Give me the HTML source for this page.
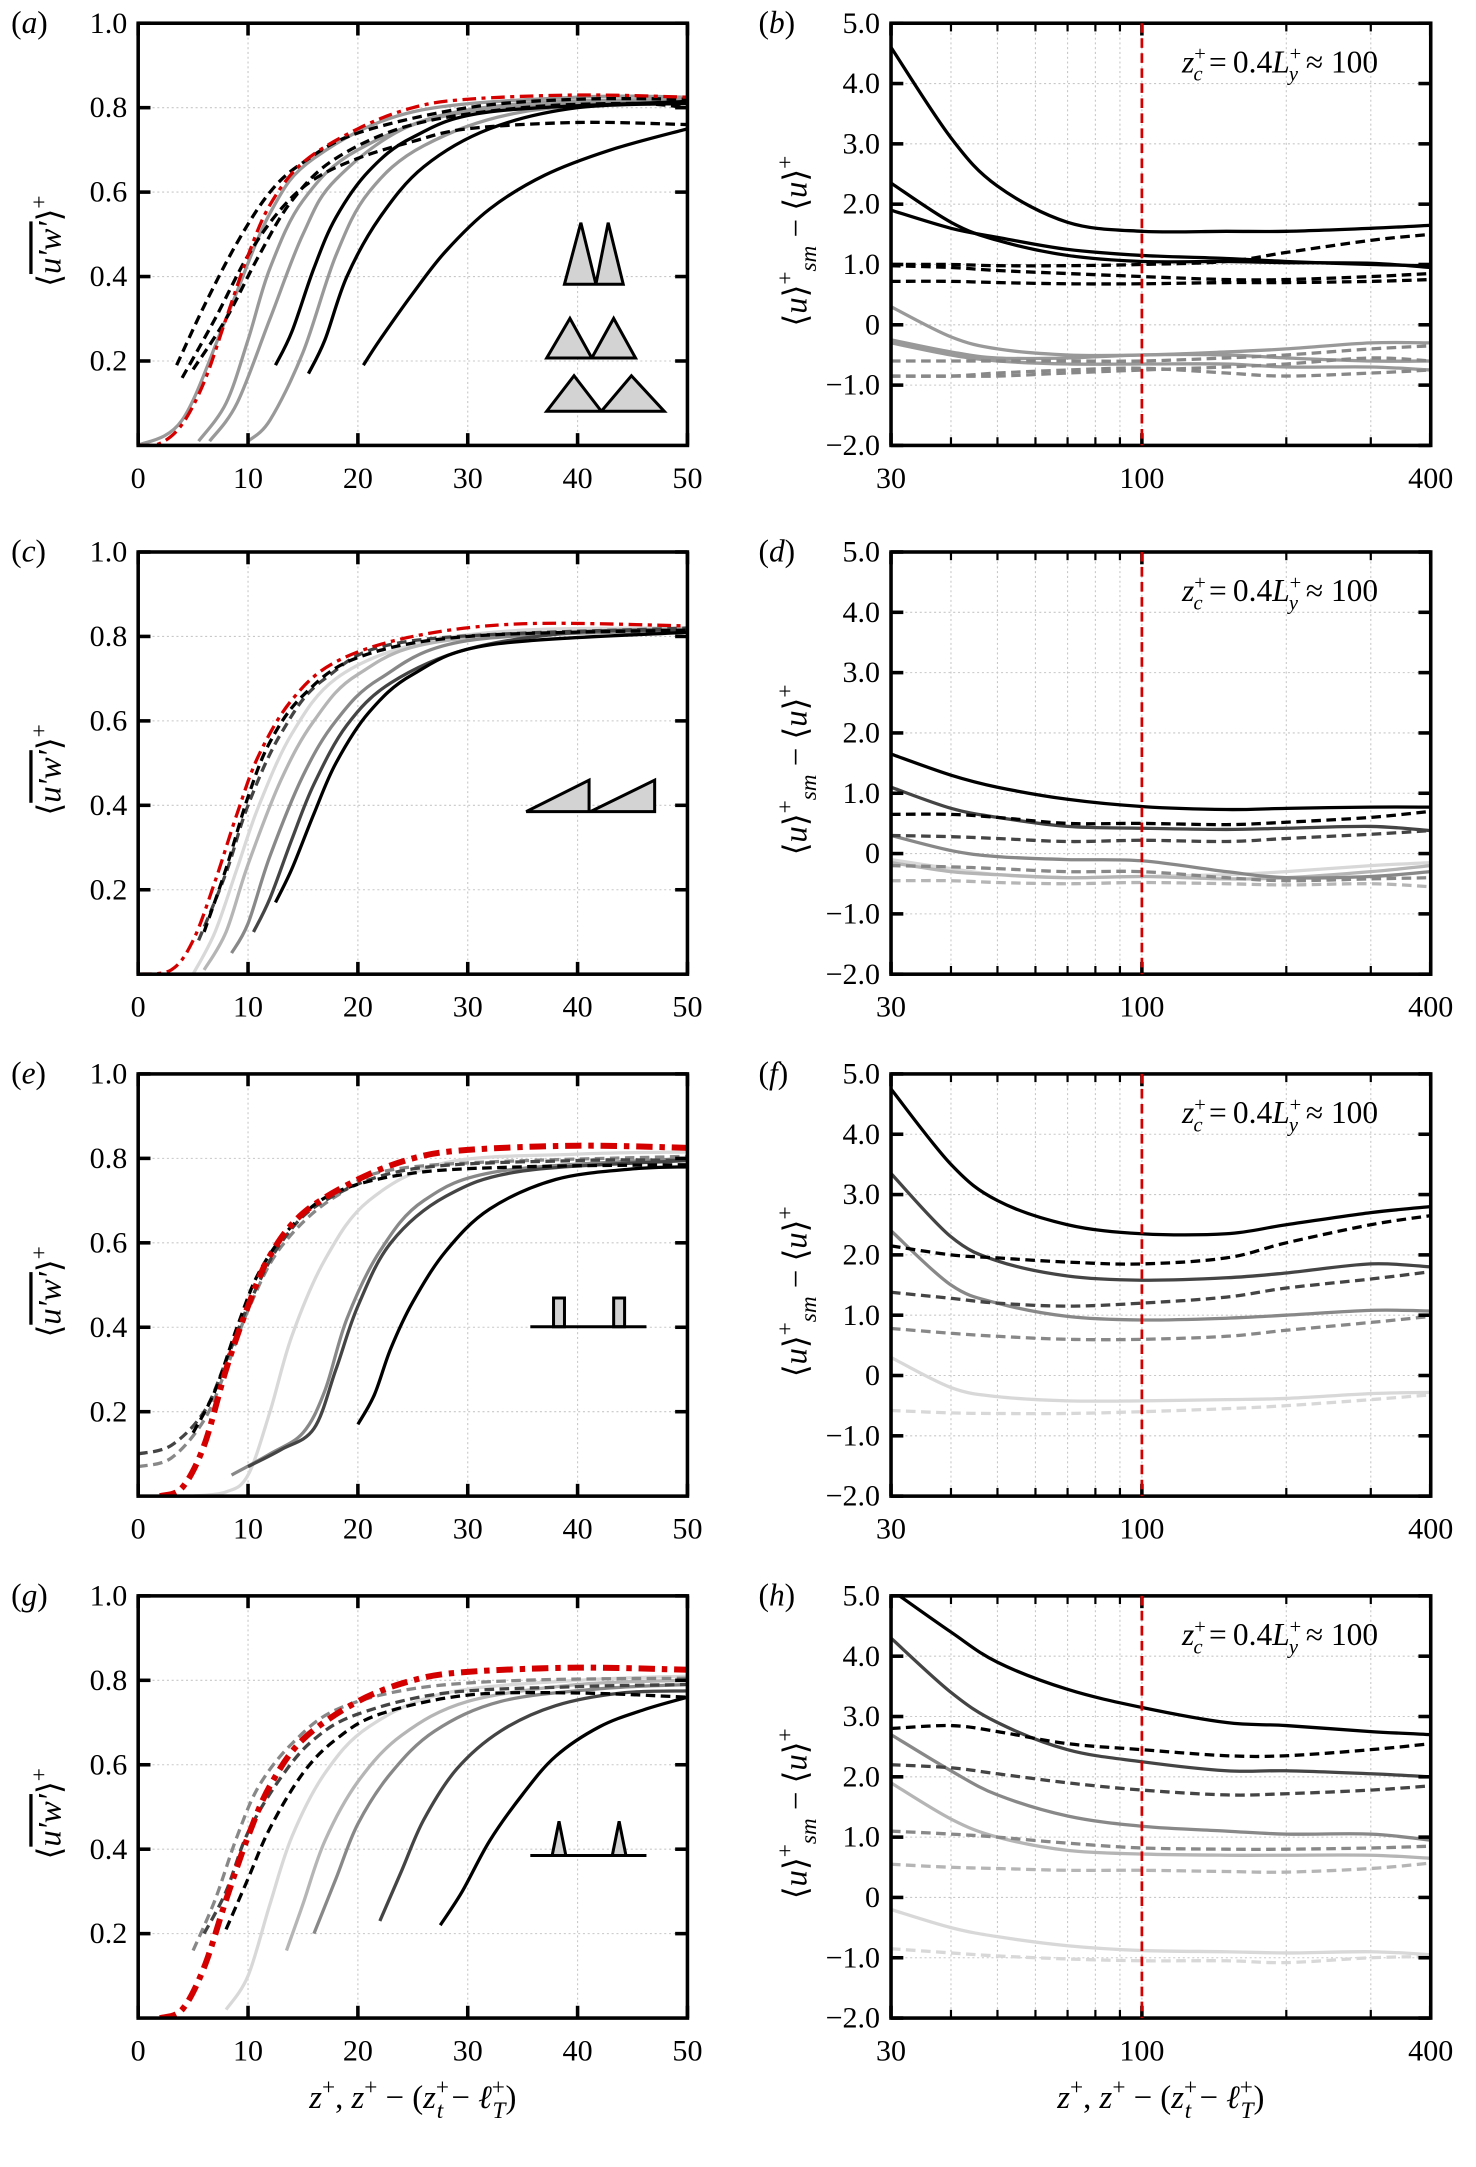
<!DOCTYPE html>
<html><head><meta charset="utf-8"><style>
html,body{margin:0;padding:0;background:#fff}
svg{display:block;font-family:"Liberation Serif",serif}
svg text{font-family:"Liberation Serif",serif;fill:#000}
</style></head><body>
<svg id="fig" width="1476" height="2167" viewBox="0 0 1080 1586" font-family="Liberation Serif, serif" xmlns="http://www.w3.org/2000/svg"></svg>
<script>
// ---- data ----
const logX = [30,40,50,70,100,150,200,300,400];
// panel a
const aRed=[[0,0],[2,0.005],[4,0.05],[6,0.15],[8,0.3],[10,0.45],[12,0.57],[15,0.67],[20,0.75],[25,0.8],[30,0.82],[40,0.83],[50,0.825]];
const aK1=[[3.5,0.19],[6,0.33],[9,0.48],[12,0.6],[15,0.67],[20,0.74],[30,0.8],[40,0.82],[50,0.82]];
const aK2=[[4,0.16],[7,0.3],[10,0.45],[13,0.56],[16,0.63],[20,0.68],[25,0.72],[30,0.75],[40,0.765],[50,0.76]];
const aK3=[[5,0.18],[8,0.3],[11,0.45],[14,0.58],[18,0.68],[25,0.76],[35,0.8],[45,0.81],[50,0.8]];
const aG1=[[0,0],[4,0.06],[8,0.3],[12,0.55],[16,0.68],[25,0.79],[40,0.825],[50,0.825]];
const aG2=[[5.5,0.01],[8,0.1],[10,0.25],[12,0.42],[15,0.58],[20,0.7],[30,0.79],[50,0.82]];
const aG3=[[6.5,0.01],[9,0.1],[12,0.3],[15,0.5],[18,0.63],[25,0.76],[35,0.81],[50,0.82]];
const aG4=[[10,0.01],[12,0.06],[15,0.22],[18,0.45],[21,0.6],[26,0.71],[35,0.79],[50,0.82]];
const aS1=[[12.5,0.19],[14,0.27],[16,0.42],[18,0.54],[21,0.65],[25,0.73],[32,0.79],[50,0.815]];
const aS2=[[15.5,0.17],[17,0.25],[19,0.4],[22,0.54],[26,0.66],[32,0.75],[40,0.8],[50,0.81]];
const aS3=[[20.5,0.19],[22,0.25],[25,0.36],[28,0.46],[32,0.56],[37,0.64],[43,0.7],[50,0.75]];
// panel b
const bK1=[4.6,3.1,2.3,1.7,1.55,1.55,1.55,1.6,1.65];
const bK2=[2.35,1.7,1.4,1.15,1.05,1.05,1.03,1.02,0.95];
const bK3=[1.9,1.6,1.45,1.25,1.15,1.1,1.05,1.0,0.98];
const bD1=[1.0,1.0,0.98,0.98,1.0,1.05,1.2,1.4,1.5];
const bD2=[0.98,0.95,0.9,0.85,0.8,0.75,0.75,0.8,0.85];
const bD3=[0.72,0.72,0.7,0.68,0.68,0.7,0.7,0.72,0.75];
const bG1=[0.3,-0.2,-0.4,-0.5,-0.5,-0.45,-0.4,-0.3,-0.3];
const bG2=[-0.25,-0.45,-0.55,-0.55,-0.5,-0.5,-0.55,-0.6,-0.6];
const bG3=[-0.3,-0.5,-0.6,-0.65,-0.65,-0.65,-0.7,-0.7,-0.75];
const bGD1=[-0.6,-0.6,-0.6,-0.6,-0.6,-0.55,-0.5,-0.4,-0.35];
const bGD2=[-0.85,-0.85,-0.85,-0.8,-0.75,-0.7,-0.65,-0.55,-0.6];
const bGD3=[-0.85,-0.85,-0.8,-0.75,-0.72,-0.8,-0.85,-0.8,-0.75];
// panel c
const cRed=[[0,0],[3,0.01],[5,0.08],[7,0.22],[9,0.38],[11,0.52],[14,0.65],[18,0.74],[25,0.8],[35,0.83],[50,0.825]];
const cKD=[[6,0.1],[8,0.25],[10,0.42],[12,0.55],[15,0.66],[20,0.75],[30,0.8],[50,0.815]];
const cGD=[[5.5,0.08],[8,0.24],[10,0.4],[13,0.57],[17,0.7],[25,0.79],[50,0.82]];
const cL=[[5,0],[7,0.1],[9,0.25],[11,0.4],[14,0.57],[18,0.7],[25,0.78],[35,0.815],[50,0.82]];
const cG=[[6,0.01],[8,0.1],[10,0.26],[13,0.46],[16,0.6],[20,0.71],[28,0.79],[50,0.82]];
const cM=[[8.5,0.05],[10,0.12],[12,0.28],[15,0.47],[18,0.6],[22,0.7],[30,0.79],[50,0.815]];
const cD=[[10.5,0.1],[12,0.18],[14,0.32],[16,0.45],[19,0.59],[23,0.69],[30,0.77],[40,0.81],[50,0.815]];
const cK=[[12.5,0.17],[14,0.25],[16,0.38],[18,0.5],[21,0.62],[25,0.71],[32,0.78],[50,0.81]];
// panel d
const dK=[1.65,1.3,1.1,0.9,0.78,0.73,0.75,0.77,0.77];
const dKD=[0.65,0.65,0.6,0.5,0.5,0.48,0.52,0.6,0.7];
const dD=[1.1,0.75,0.6,0.45,0.42,0.4,0.42,0.45,0.38];
const dDD=[0.3,0.28,0.25,0.2,0.22,0.2,0.25,0.32,0.38];
const dG=[0.3,0.05,-0.05,-0.1,-0.12,-0.3,-0.4,-0.38,-0.3];
const dGD=[-0.2,-0.22,-0.25,-0.3,-0.3,-0.4,-0.45,-0.42,-0.4];
const dL=[-0.15,-0.3,-0.35,-0.4,-0.38,-0.42,-0.4,-0.3,-0.2];
const dLD=[-0.45,-0.45,-0.48,-0.5,-0.48,-0.5,-0.52,-0.5,-0.55];
const dXL=[-0.1,-0.25,-0.35,-0.4,-0.38,-0.35,-0.3,-0.2,-0.15];
// panel e
const eRed=[[2,0],[4,0.02],[6,0.12],[8,0.3],[10,0.45],[12,0.57],[15,0.67],[20,0.75],[25,0.8],[30,0.82],[40,0.83],[50,0.825]];
const eKD=[[5,0.15],[7,0.25],[9,0.4],[11,0.53],[14,0.64],[18,0.72],[25,0.765],[35,0.78],[50,0.785]];
const eDD=[[0,0.1],[3,0.12],[6,0.2],[8,0.32],[10,0.45],[13,0.6],[17,0.7],[25,0.775],[40,0.795],[50,0.795]];
const eGD=[[0,0.07],[3,0.09],[6,0.18],[8,0.3],[10,0.44],[13,0.59],[18,0.71],[25,0.78],[50,0.805]];
const eL=[[5,0],[8,0.01],[10,0.05],[12,0.2],[14,0.38],[17,0.56],[21,0.7],[28,0.79],[40,0.81],[50,0.815]];
const eG=[[8.5,0.05],[12,0.1],[15,0.15],[17,0.25],[19,0.42],[22,0.58],[26,0.7],[33,0.77],[50,0.8]];
const eD=[[10,0.07],[13,0.11],[16,0.16],[18,0.3],[20,0.45],[23,0.6],[28,0.71],[35,0.77],[50,0.795]];
const eK=[[20,0.17],[21.5,0.24],[23,0.35],[25,0.46],[28,0.58],[32,0.68],[38,0.75],[45,0.775],[50,0.78]];
// panel f
const fK=[4.75,3.5,2.9,2.5,2.35,2.35,2.5,2.7,2.8];
const fKD=[2.15,2.0,1.95,1.88,1.85,1.95,2.2,2.5,2.65];
const fD=[3.35,2.3,1.9,1.65,1.58,1.62,1.7,1.85,1.8];
const fDD=[1.38,1.28,1.2,1.15,1.2,1.3,1.45,1.6,1.72];
const fG=[2.4,1.5,1.2,0.98,0.92,0.95,1.0,1.08,1.07];
const fGD=[0.78,0.7,0.65,0.6,0.6,0.65,0.75,0.88,0.98];
const fL=[0.3,-0.2,-0.35,-0.42,-0.42,-0.4,-0.38,-0.3,-0.28];
const fLD=[-0.58,-0.62,-0.63,-0.63,-0.6,-0.55,-0.5,-0.4,-0.32];
// panel g
const gRed=[[2,0],[4,0.02],[6,0.12],[8,0.28],[10,0.43],[12,0.55],[15,0.66],[20,0.75],[25,0.8],[30,0.82],[40,0.83],[50,0.825]];
const gGD=[[5,0.16],[7,0.28],[9,0.43],[11,0.55],[14,0.65],[18,0.73],[25,0.78],[35,0.8],[50,0.805]];
const gDD=[[6,0.2],[8,0.3],[10,0.44],[13,0.57],[16,0.66],[20,0.72],[28,0.77],[40,0.785],[50,0.79]];
const gKD=[[8,0.21],[10,0.33],[12,0.45],[15,0.58],[18,0.66],[22,0.72],[30,0.765],[40,0.77],[50,0.76]];
const gL=[[8,0.02],[10,0.1],[12,0.27],[14,0.43],[17,0.58],[21,0.69],[28,0.77],[40,0.8],[50,0.81]];
const gG1=[[13.5,0.16],[15,0.27],[17,0.42],[20,0.56],[24,0.67],[30,0.75],[40,0.79],[50,0.8]];
const gG2=[[16,0.2],[18,0.33],[20,0.46],[23,0.58],[27,0.68],[33,0.75],[42,0.78],[50,0.79]];
const gD=[[22,0.23],[24,0.35],[26,0.47],[29,0.59],[33,0.68],[38,0.74],[44,0.77],[50,0.775]];
const gK=[[27.5,0.22],[29.5,0.3],[32,0.42],[35,0.53],[38,0.62],[42,0.69],[46,0.73],[50,0.76]];
// panel h
const hK=[5.1,4.4,3.9,3.45,3.15,2.9,2.85,2.75,2.7];
const hKD=[2.8,2.85,2.75,2.55,2.45,2.35,2.35,2.45,2.55];
const hD=[4.3,3.4,2.9,2.45,2.25,2.1,2.1,2.05,2.0];
const hDD=[2.2,2.15,2.05,1.9,1.78,1.7,1.72,1.78,1.85];
const hG=[2.7,2.1,1.7,1.35,1.18,1.1,1.05,1.05,0.95];
const hGD=[1.1,1.05,1.0,0.9,0.82,0.8,0.8,0.82,0.85];
const hL=[1.9,1.3,1.0,0.78,0.72,0.7,0.7,0.7,0.65];
const hLD=[0.55,0.5,0.48,0.45,0.45,0.43,0.42,0.48,0.57];
const hXL=[-0.2,-0.5,-0.65,-0.8,-0.88,-0.9,-0.92,-0.9,-0.95];
const hXLD=[-0.85,-0.92,-0.97,-1.02,-1.05,-1.05,-1.08,-1.0,-0.98];

const leftXTicks=[0,10,20,30,40,50];
const leftYTicks=[0.2,0.4,0.6,0.8,1.0];
const rightXMajor=[30,100,400];
const rightXMinor=[40,50,60,70,80,90,200,300];
const rightYTicks=[-2,-1,0,1,2,3,4,5];

// ---- drawing ----
const NS="http://www.w3.org/2000/svg";
const svg=document.getElementById('fig');
const FONT='"Liberation Serif", serif';
function mk(tag,attrs,parent){const e=document.createElementNS(NS,tag);for(const k in attrs)e.setAttribute(k,attrs[k]);if(tag==='text')e.style.fontFamily=FONT;(parent||svg).appendChild(e);return e;}
function smooth(pts){
  if(pts.length<2)return '';
  let d='M'+pts[0][0].toFixed(2)+','+pts[0][1].toFixed(2);
  for(let i=0;i<pts.length-1;i++){
    const p0=pts[Math.max(0,i-1)],p1=pts[i],p2=pts[i+1],p3=pts[Math.min(pts.length-1,i+2)];
    const c1=[p1[0]+(p2[0]-p0[0])/6,p1[1]+(p2[1]-p0[1])/6];
    const c2=[p2[0]-(p3[0]-p1[0])/6,p2[1]-(p3[1]-p1[1])/6];
    d+=' C'+c1[0].toFixed(2)+','+c1[1].toFixed(2)+' '+c2[0].toFixed(2)+','+c2[1].toFixed(2)+' '+p2[0].toFixed(2)+','+p2[1].toFixed(2);
  }
  return d;
}
const W=402;const H=309;
const tops=[17,404,786,1168];
const LX=101, RX=652, RW=395;
const STY={
  red:{s:'#d40000',w:2.4,d:'10,4,3,4'}, redT:{s:'#d40000',w:4.4,d:'12,5,4,5'},
  kd:{s:'#000',w:2.4,d:'7,4'}, k:{s:'#000',w:2.4,d:''},
  d:{s:'#444',w:2.4,d:''}, dd:{s:'#444',w:2.4,d:'7,4'},
  g:{s:'#888',w:2.4,d:''}, gd:{s:'#888',w:2.4,d:'7,4'},
  g2:{s:'#999',w:2.4,d:''},
  l:{s:'#b5b5b5',w:2.4,d:''}, ld:{s:'#b5b5b5',w:2.4,d:'7,4'},
  xl:{s:'#d8d8d8',w:2.4,d:''}, xld:{s:'#d8d8d8',w:2.4,d:'7,4'}
};
let clipId=0;
function panel(letter,row,side){
  const top=tops[row];
  const x0= side==='L'?LX:RX; const w= side==='L'?W:RW;
  const g=mk('g',{});
  
  
  const sx= side==='L' ? (v=>x0+v/50*w) : (v=>x0+(Math.log(v)-Math.log(30))/(Math.log(400)-Math.log(30))*w);
  const sy= side==='L' ? (v=>top+H-v*H) : (v=>top+H-(v+2)/7*H);
  const gx= side==='L'?leftXTicks.slice(1,-1):rightXMinor.concat([100]);
  const gy= side==='L'?leftYTicks.slice(0,-1):rightYTicks.slice(1,-1);
  gx.forEach(v=>{const l=mk('line',{x1:sx(v),x2:sx(v),y1:top,y2:top+H,stroke:'#c8c8c8','stroke-width':0.8,'stroke-dasharray':'1.5,2'},g);});
  gy.forEach(v=>{const l=mk('line',{x1:x0,x2:x0+w,y1:sy(v),y2:sy(v),stroke:'#c8c8c8','stroke-width':0.8,'stroke-dasharray':'1.5,2'},g);});
  const id='clip'+(clipId++);
  const cp=mk('clipPath',{id:id},g); mk('rect',{x:x0,y:top,width:w,height:H},cp);
  const cg=mk('g',{'clip-path':'url(#'+id+')'},g);
  return {g,cg,sx,sy,top,x0,w};
}
function addLine(P,data,style,name,isLog){
  const st=STY[style];
  const pts= isLog ? logX.map((x,i)=>[P.sx(x),P.sy(data[i])]) : data.map(p=>[P.sx(p[0]),P.sy(p[1])]);
  const e=mk('path',{d:smooth(pts),fill:'none',stroke:st.s,'stroke-width':st.w,'stroke-dasharray':st.d,'stroke-linejoin':'round'},P.cg);
  
  
}
function frame(P,letter,side,showXLabel){
  const {g,sx,sy,top,x0,w}=P;
  const bx=mk('rect',{x:x0,y:top,width:w,height:H,fill:'none',stroke:'#000','stroke-width':2.6},g);
  
  const xt= side==='L'?leftXTicks:rightXMajor;
  xt.forEach(v=>{
    [[top+H,top+H-9],[top,top+9]].forEach(([a,b])=>{const t=mk('line',{x1:sx(v),x2:sx(v),y1:a,y2:b,stroke:'#000','stroke-width':2.6},g);});
    const lb=mk('text',{x:sx(v),y:top+H+31,'text-anchor':'middle','font-size':22},g);lb.textContent=v;
    
  });
  if(side==='R'){rightXMinor.forEach(v=>{[[top+H,top+H-6],[top,top+6]].forEach(([a,b])=>{const t=mk('line',{x1:sx(v),x2:sx(v),y1:a,y2:b,stroke:'#000','stroke-width':1.6},g);});});}
  const yt= side==='L'?leftYTicks:rightYTicks;
  yt.forEach(v=>{
    [[x0,x0+9],[x0+w,x0+w-9]].forEach(([a,b])=>{const t=mk('line',{x1:a,x2:b,y1:sy(v),y2:sy(v),stroke:'#000','stroke-width':2.6},g);});
    let s= side==='L'?v.toFixed(1):(v===0?'0':(v<0?'\u2212'+Math.abs(v).toFixed(1):v.toFixed(1)));
    const lb=mk('text',{x:x0-8,y:sy(v)+7,'text-anchor':'end','font-size':22},g);lb.textContent=s;
    
  });
  const pl=mk('text',{x: side==='L'?8:555,y:top+7,'font-size':23},g);
  pl.innerHTML='(<tspan font-style="italic">'+letter+'</tspan>)';
  
  let yl;
  if(side==='L'){
    yl=mk('text',{transform:'translate(44,'+(top+H/2+5)+') rotate(-90)','text-anchor':'middle','font-size':24},g);
    yl.innerHTML='\u27E8<tspan font-style="italic" text-decoration="overline">u\u2032w\u2032</tspan>\u27E9<tspan dy="-10" font-size="17">+</tspan>';
  } else {
    yl=mk('text',{transform:'translate(590,'+(top+H/2+5)+') rotate(-90)','text-anchor':'middle','font-size':24},g);
    yl.innerHTML='\u27E8<tspan font-style="italic">u</tspan>\u27E9<tspan dy="-10" font-size="17">+</tspan><tspan dy="17" font-size="17" font-style="italic">sm</tspan><tspan dy="-7"> \u2212 \u27E8</tspan><tspan font-style="italic">u</tspan>\u27E9<tspan dy="-10" font-size="17">+</tspan>';
  }
  
  if(side==='R'){
    const rl=mk('line',{x1:sx(100),x2:sx(100),y1:top,y2:top+H,stroke:'#d40000','stroke-width':2,'stroke-dasharray':'7,4'},g);
    
    const an=mk('text',{x:865,y:top+36,'font-size':23},g);
    an.innerHTML='<tspan font-style="italic">z</tspan><tspan dy="-9" font-size="15">+</tspan><tspan dy="15" dx="-9" font-size="15" font-style="italic">c</tspan><tspan dy="-6">\u2009=\u20090.4</tspan><tspan font-style="italic">L</tspan><tspan dy="-9" font-size="15">+</tspan><tspan dy="15" dx="-9" font-size="15" font-style="italic">y</tspan><tspan dy="-6"> \u2248 100</tspan>';
    
  }
  if(showXLabel){
    const xl=mk('text',{x:x0+w/2,y:1543,'text-anchor':'middle','font-size':24},g);
    xl.innerHTML='<tspan font-style="italic">z</tspan><tspan dy="-10" font-size="17">+</tspan><tspan dy="10">, </tspan><tspan font-style="italic">z</tspan><tspan dy="-10" font-size="17">+</tspan><tspan dy="10"> \u2212 (</tspan><tspan font-style="italic">z</tspan><tspan dy="-10" font-size="17">+</tspan><tspan dy="17" dx="-9" font-size="17" font-style="italic">t</tspan><tspan dy="-7"> \u2212 </tspan><tspan font-style="italic">\u2113</tspan><tspan dy="-10" font-size="17">+</tspan><tspan dy="17" dx="-9" font-size="17" font-style="italic">T</tspan><tspan dy="-7">)</tspan>';
    
  }
}
function icon(d,name,fill){const e=mk('path',{d:d,fill:fill||'#d3d3d3',stroke:'#000','stroke-width':2.2,'stroke-linejoin':'miter'});}

let P=panel('a',0,'L');
[[aG1,'g2'],[aG2,'g2'],[aG3,'g2'],[aG4,'g2'],[aS1,'k'],[aS2,'k'],[aS3,'k'],[aK1,'kd'],[aK2,'kd'],[aK3,'kd'],[aRed,'red']].forEach((s,i)=>addLine(P,s[0],s[1],'series-a-'+i,false));
frame(P,'a','L',false);
icon('M413,208 L425,163 L436,208 Z M436,208 L445,163 L456,208 Z','roughness-icon-sharp');
icon('M400,262 L417,233 L433,262 Z M433,262 L449,233 L465,262 Z','roughness-icon-medium');
icon('M400,301 L420,275 L440,301 Z M440,301 L462,275 L486,301 Z','roughness-icon-wide');
P=panel('b',0,'R');
[[bG1,'g2'],[bG2,'g2'],[bG3,'g2'],[bGD1,'gd'],[bGD2,'gd'],[bGD3,'gd'],[bK1,'k'],[bK2,'k'],[bK3,'k'],[bD1,'kd'],[bD2,'kd'],[bD3,'kd']].forEach((s,i)=>addLine(P,s[0],s[1],'series-b-'+i,true));
frame(P,'b','R',false);
P=panel('c',1,'L');
[[cL,'xl'],[cG,'l'],[cM,'g'],[cD,'d'],[cK,'k'],[cGD,'dd'],[cKD,'kd'],[cRed,'red']].forEach((s,i)=>addLine(P,s[0],s[1],'series-c-'+i,false));
frame(P,'c','L',false);
icon('M385,594 L431,571 L431,594 Z M432,594 L479,571 L479,594 Z','roughness-icon-sawtooth');
P=panel('d',1,'R');
[[dXL,'xl'],[dL,'l'],[dLD,'ld'],[dG,'g'],[dGD,'gd'],[dD,'d'],[dDD,'dd'],[dK,'k'],[dKD,'kd']].forEach((s,i)=>addLine(P,s[0],s[1],'series-d-'+i,true));
frame(P,'d','R',false);
P=panel('e',2,'L');
[[eL,'xl'],[eG,'g'],[eD,'d'],[eK,'k'],[eGD,'gd'],[eDD,'dd'],[eKD,'kd'],[eRed,'redT']].forEach((s,i)=>addLine(P,s[0],s[1],'series-e-'+i,false));
frame(P,'e','L',false);
icon('M405,971 L405,950 L413,950 L413,971 Z M449,971 L449,950 L457,950 L457,971 Z','roughness-icon-bars');
icon('M388,971 L473,971','roughness-icon-base','none');
P=panel('f',2,'R');
[[fL,'xl'],[fLD,'xld'],[fG,'g'],[fGD,'gd'],[fD,'d'],[fDD,'dd'],[fK,'k'],[fKD,'kd']].forEach((s,i)=>addLine(P,s[0],s[1],'series-f-'+i,true));
frame(P,'f','R',false);
P=panel('g',3,'L');
[[gL,'xl'],[gG1,'l'],[gG2,'g'],[gD,'d'],[gK,'k'],[gGD,'gd'],[gDD,'dd'],[gKD,'kd'],[gRed,'redT']].forEach((s,i)=>addLine(P,s[0],s[1],'series-g-'+i,false));
frame(P,'g','L',true);
icon('M404,1358 L409,1333 L414,1358 Z M448,1358 L453,1333 L458,1358 Z','roughness-icon-spikes');
icon('M388,1358 L473,1358','roughness-icon-base2','none');
P=panel('h',3,'R');
[[hXL,'xl'],[hXLD,'xld'],[hL,'l'],[hLD,'ld'],[hG,'g'],[hGD,'gd'],[hD,'d'],[hDD,'dd'],[hK,'k'],[hKD,'kd']].forEach((s,i)=>addLine(P,s[0],s[1],'series-h-'+i,true));
frame(P,'h','R',true);
</script>
</body></html>
